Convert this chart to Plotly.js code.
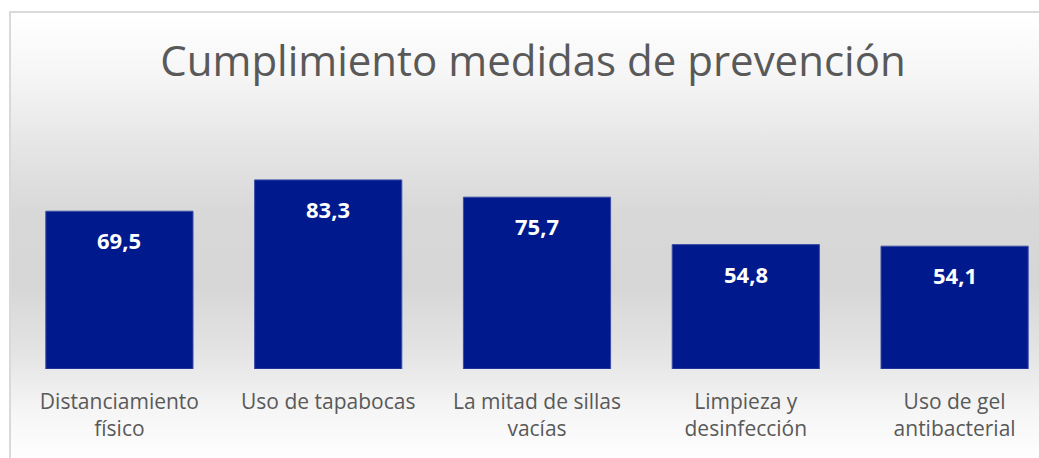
<!DOCTYPE html>
<html>
<head>
<meta charset="utf-8">
<script src="https://cdn.plot.ly/plotly-3.0.1.min.js"></script>
<style>
  html, body { margin: 0; padding: 0; overflow: hidden; background: #ffffff; }
  #wrap { position: absolute; left: 9px; top: 11px; width: 1100px; height: 460px;
          border-left: 2px solid #d9d9d9; border-top: 2px solid #d9d9d9;
          background: linear-gradient(to bottom, #ffffff 0px, #f6f6f6 60px, #e6e6e6 130px, #d8d8d8 200px, #d6d6d6 270px, #e4e4e4 340px, #f6f6f6 400px, #fdfdfd 440px); }
  #chart { position: absolute; left: 0; top: 0; }
</style>
</head>
<body>
<div id="wrap"><div id="chart"></div></div>
<script>
const categories = ["Distanciamiento<br>físico", "Uso de tapabocas", "La mitad de sillas<br>vacías", "Limpieza y<br>desinfección", "Uso de gel<br>antibacterial"];
const values = [69.5, 83.3, 75.7, 54.8, 54.1];
const chartTitle = "Cumplimiento medidas de prevención";

const fmt = v => v.toFixed(1).replace('.', ',');

const trace = {
  type: 'bar',
  x: categories.map((c, i) => i),
  y: values,
  marker: { color: '#001A8E', line: { color: '#3a4ca6', width: 1 } },
  hoverinfo: 'skip'
};

const annotations = values.map((v, i) => ({
  x: i, y: v, xref: 'x', yref: 'y',
  text: '<b>' + fmt(v) + '</b>',
  showarrow: false, yanchor: 'top', yshift: -12,
  font: { family: 'Open Sans, sans-serif', size: 22, color: '#ffffff' }
}));

const layout = {
  width: 1060, height: 447,
  margin: { l: 4, r: 12, t: 129, b: 91 },
  paper_bgcolor: 'rgba(0,0,0,0)',
  plot_bgcolor: 'rgba(0,0,0,0)',
  title: { text: chartTitle, x: 522 / 1060, xanchor: 'center', y: 1 - 48 / 447, yanchor: 'middle',
           font: { family: 'Open Sans, sans-serif', size: 42, color: '#595959' } },
  bargap: 0.295,
  showlegend: false,
  xaxis: {
    range: [-0.5, 4.5],
    tickvals: categories.map((c, i) => i),
    ticktext: categories,
    showgrid: false, zeroline: false, showline: false, ticks: '',
    ticklabelstandoff: 18,
    tickfont: { family: 'Open Sans, sans-serif', size: 21, color: '#595959' },
    fixedrange: true
  },
  yaxis: {
    range: [0, 100],
    showgrid: false, zeroline: false, showline: false, showticklabels: false, ticks: '',
    fixedrange: true
  },
  annotations: annotations
};

Plotly.newPlot('chart', [trace], layout, { displayModeBar: false, staticPlot: true });
</script>
</body>
</html>
